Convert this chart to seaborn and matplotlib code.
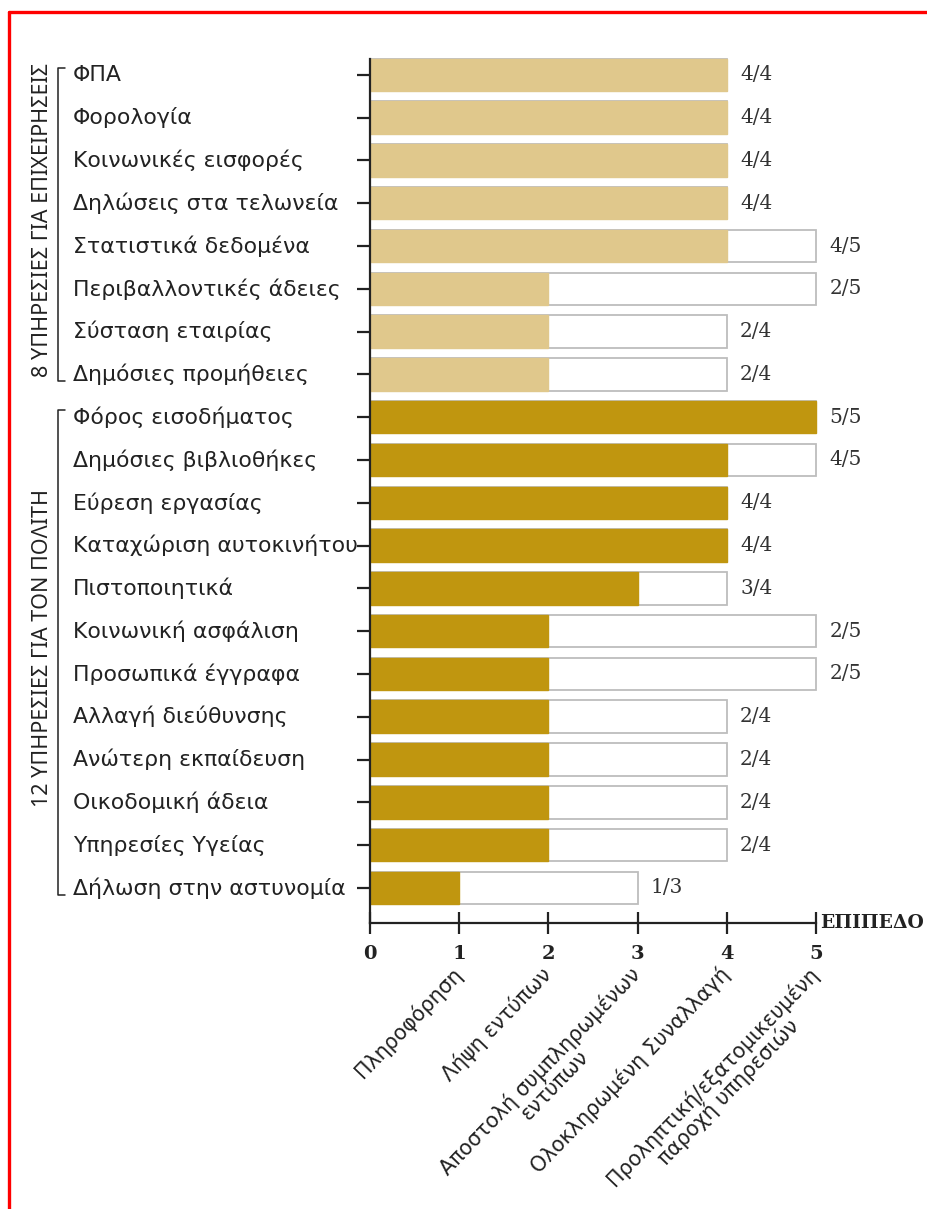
import matplotlib
matplotlib.use("Agg")
import matplotlib.pyplot as plt
from matplotlib import font_manager
from matplotlib.lines import Line2D
from matplotlib.transforms import blended_transform_factory
import seaborn as sns
import pandas as pd

# ---------------- data ----------------
categories = [
    "ΦΠΑ", "Φορολογία", "Κοινωνικές εισφορές", "Δηλώσεις στα τελωνεία",
    "Στατιστικά δεδομένα", "Περιβαλλοντικές άδειες", "Σύσταση εταιρίας",
    "Δημόσιες προμήθειες",
    "Φόρος εισοδήματος", "Δημόσιες βιβλιοθήκες", "Εύρεση εργασίας",
    "Καταχώριση αυτοκινήτου", "Πιστοποιητικά", "Κοινωνική ασφάλιση",
    "Προσωπικά έγγραφα", "Αλλαγή διεύθυνσης", "Ανώτερη εκπαίδευση",
    "Οικοδομική άδεια", "Υπηρεσίες Υγείας", "Δήλωση στην αστυνομία",
]
achieved = [4, 4, 4, 4, 4, 2, 2, 2, 5, 4, 4, 4, 3, 2, 2, 2, 2, 2, 2, 1]
totals = [4, 4, 4, 4, 5, 5, 4, 4, 5, 5, 4, 4, 4, 5, 5, 4, 4, 4, 4, 3]
groups = ["business"] * 8 + ["citizen"] * 12
group_titles = ["8 ΥΠΗΡΕΣΙΕΣ ΓΙΑ ΕΠΙΧΕΙΡΗΣΕΙΣ", "12 ΥΠΗΡΕΣΙΕΣ ΓΙΑ ΤΟΝ ΠΟΛΙΤΗ"]
level_ticks = [0, 1, 2, 3, 4, 5]
level_names = [
    "Πληροφόρηση", "Λήψη εντύπων", "Αποστολή συμπληρωμένων\nεντύπων",
    "Ολοκληρωμένη Συναλλαγή", "Προληπτική/εξατομικευμένη\nπαροχή υπηρεσιών",
]
axis_title = "ΕΠΙΠΕΔΟ"

palette = {"business": "#E0C88C", "citizen": "#C0960F"}

# ---------------- style ----------------
sns.set_theme(style="white")
plt.rcParams["font.family"] = ["DejaVu Sans"]
names = {f.name for f in font_manager.fontManager.ttflist}
narrow_family = "Noto Sans" if "Noto Sans" in names else "DejaVu Sans"
narrow_size = 15.5 if narrow_family == "Noto Sans" else 13.5

W, H = 927, 1209
fig = plt.figure(figsize=(W / 100, H / 100), dpi=100)
fig.patch.set_facecolor("white")

ax_left, ax_right, ax_top, ax_bottom = 370, 816, 59, 923
ax = fig.add_axes([ax_left / W, 1 - ax_bottom / H, (ax_right - ax_left) / W, (ax_bottom - ax_top) / H])

df = pd.DataFrame({"cat": categories, "achieved": achieved, "total": totals, "group": groups})

ink = "#222222"
sns.barplot(data=df, x="total", y="cat", orient="h", color="white",
            edgecolor="#BDBDBD", linewidth=1.3, width=0.76, ax=ax, saturation=1)
n_total = len(ax.patches)
sns.barplot(data=df, x="achieved", y="cat", hue="group", palette=palette, orient="h",
            dodge=False, width=0.76, ax=ax, legend=False, saturation=1)
for i, p in enumerate(ax.patches):
    p.set_clip_on(False)
    if i >= n_total:
        p.set_edgecolor(p.get_facecolor())
        p.set_linewidth(1.0)
        p.set_zorder(3)

ax.set_xlim(0, 5)
ax.set_ylim(19.82, -0.37)
ax.set_xlabel("")
ax.set_ylabel("")

for s in ["top", "right"]:
    ax.spines[s].set_visible(False)
for s in ["left", "bottom"]:
    ax.spines[s].set_linewidth(1.6)
    ax.spines[s].set_color(ink)
    ax.spines[s].set_zorder(5)

ax.tick_params(axis="y", direction="out", length=9.4, width=1.6, color=ink, labelleft=False, left=True)
ax.set_xticks(level_ticks)
ax.set_xticklabels([str(t) for t in level_ticks], fontfamily="DejaVu Serif",
                   fontweight="bold", fontsize=14, color=ink)
ax.tick_params(axis="x", direction="inout", length=16, width=1.6, color=ink, pad=8, bottom=True)

# value labels
for i, (a, t) in enumerate(zip(achieved, totals)):
    ax.text(t + 0.15, i, f"{a}/{t}", ha="left", va="center", fontsize=14.5,
            fontfamily="DejaVu Serif", color="#333333", clip_on=False)

# category labels, left aligned
tr = blended_transform_factory(fig.transFigure, ax.transData)
for i, c in enumerate(categories):
    ax.text(73 / W, i, c, transform=tr, ha="left", va="center", fontsize=15.8, color=ink)

# level labels under x axis
for x, name in zip(level_ticks[1:], level_names):
    ax.annotate(name, xy=(x, 0), xycoords=("data", "axes fraction"),
                xytext=(-6, -29), textcoords="offset points",
                rotation=46, rotation_mode="anchor", ha="right", va="top",
                multialignment="center", linespacing=1.0,
                fontsize=14.8, color=ink, annotation_clip=False)

ax.annotate(axis_title, xy=(5, 0), xycoords=("data", "axes fraction"),
            xytext=(3, 0), textcoords="offset points", ha="left", va="center",
            fontfamily="DejaVu Serif", fontweight="bold", fontsize=13.5, color=ink,
            annotation_clip=False)

# group brackets
grp_order = ["business", "citizen"]
bx = 58 / W
stub = 7 / W
for g, title in zip(grp_order, group_titles):
    idx = [i for i, gg in enumerate(groups) if gg == g]
    y0, y1 = idx[0] - 0.16, idx[-1] + 0.16
    ax.add_line(Line2D([bx + stub, bx, bx, bx + stub], [y0, y0, y1, y1], transform=tr,
                       color=ink, linewidth=1.1, clip_on=False))
    ax.text(43 / W, (y0 + y1) / 2 - 0.1, title, transform=tr, rotation=90, ha="center",
            va="center", fontsize=narrow_size, fontfamily=narrow_family, color=ink)

# red frame
fig.add_artist(Line2D([9 / W, 9 / W], [0, 1 - 12 / H], transform=fig.transFigure,
                      color="#FF0000", linewidth=2.4))
fig.add_artist(Line2D([9 / W, 1], [1 - 12 / H, 1 - 12 / H], transform=fig.transFigure,
                      color="#FF0000", linewidth=2.4))

fig.savefig("out.png", dpi=100, facecolor="white")
